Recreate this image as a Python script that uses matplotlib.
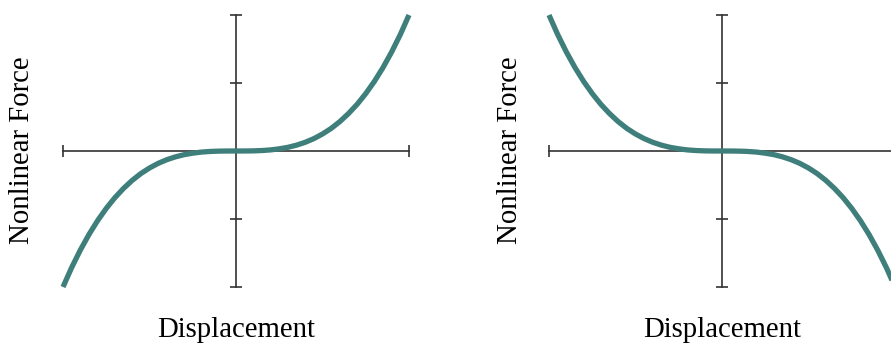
import numpy as np
import matplotlib
matplotlib.use("Agg")
import matplotlib.pyplot as plt

plt.rcParams['font.family'] = ['Liberation Serif', 'DejaVu Serif']

# displacement samples (normalised) and force
disp = [-1.0, -0.95, -0.9, -0.85, -0.8, -0.75, -0.7, -0.65, -0.6, -0.55, -0.5,
        -0.45, -0.4, -0.35, -0.3, -0.25, -0.2, -0.15, -0.1, -0.05, 0.0,
        0.05, 0.1, 0.15, 0.2, 0.25, 0.3, 0.35, 0.4, 0.45, 0.5,
        0.55, 0.6, 0.65, 0.7, 0.75, 0.8, 0.85, 0.9, 0.95, 1.0]
force_hard = [-1.0, -0.857, -0.729, -0.614, -0.512, -0.422, -0.343, -0.275, -0.216, -0.166, -0.125,
              -0.091, -0.064, -0.043, -0.027, -0.016, -0.008, -0.0034, -0.001, -0.0001, 0.0,
              0.0001, 0.001, 0.0034, 0.008, 0.016, 0.027, 0.043, 0.064, 0.091, 0.125,
              0.166, 0.216, 0.275, 0.343, 0.422, 0.512, 0.614, 0.729, 0.857, 1.0]
force_soft = [1.0, 0.857, 0.729, 0.614, 0.512, 0.422, 0.343, 0.275, 0.216, 0.166, 0.125,
              0.091, 0.064, 0.043, 0.027, 0.016, 0.008, 0.0034, 0.001, 0.0001, 0.0,
              -0.0001, -0.001, -0.0034, -0.008, -0.016, -0.027, -0.043, -0.064, -0.091, -0.125,
              -0.166, -0.216, -0.275, -0.343, -0.422, -0.512, -0.614, -0.729, -0.857, -1.0]

y_ticks = [-1.0, -0.5, 0.5, 1.0]
x_ticks = [-1.0, 1.0]
xlabel = "Displacement"
ylabel = "Nonlinear Force"

line_col = "#3f7f7b"
axis_col = "#333333"

W, H = 891, 347
fig = plt.figure(figsize=(W / 100, H / 100), dpi=100)


def panel(left_px, force, ylab_x):
    ax = fig.add_axes([left_px / W, (H - 287) / H, 346 / W, 272 / H])
    ax.set_xlim(-1, 1)
    ax.set_ylim(-1, 1)
    ax.patch.set_alpha(0)
    for s in ['top', 'right']:
        ax.spines[s].set_visible(False)
    ax.spines['left'].set_position(('data', 0))
    ax.spines['bottom'].set_position(('data', 0))
    for s in ['left', 'bottom']:
        ax.spines[s].set_color(axis_col)
        ax.spines[s].set_linewidth(1.2)
    ax.set_xticks(x_ticks)
    ax.set_yticks(y_ticks)
    ax.set_xticklabels([])
    ax.set_yticklabels([])
    ax.tick_params(direction='inout', length=9, width=1.2, color=axis_col)
    ax.plot(disp, force, color=line_col, lw=3.8, solid_capstyle='butt',
            solid_joinstyle='round', clip_on=False, zorder=3)
    fig.text((left_px + 173) / W, 1 - 330 / H, xlabel, ha='center', va='center',
             fontsize=20.7, color='black')
    fig.text(ylab_x / W, 1 - 150 / H, ylabel, ha='center', va='center',
             rotation=90, fontsize=20.7, color='black')
    return ax


panel(63, force_hard, 22)
panel(549, force_soft, 510)

fig.savefig("out.png", dpi=100)
